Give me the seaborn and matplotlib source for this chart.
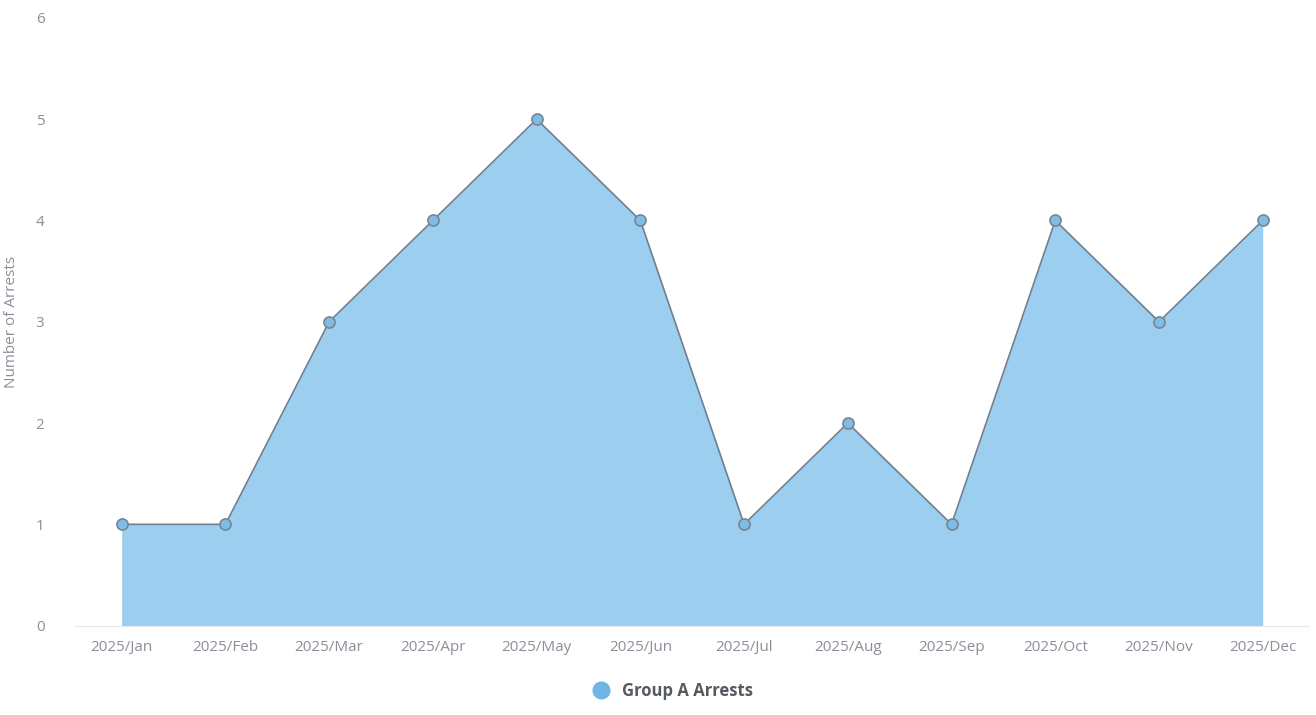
import pandas as pd
import matplotlib.pyplot as plt
import seaborn as sns
from matplotlib.lines import Line2D

# Data
months = ['2025/Jan', '2025/Feb', '2025/Mar', '2025/Apr', '2025/May', '2025/Jun',
          '2025/Jul', '2025/Aug', '2025/Sep', '2025/Oct', '2025/Nov', '2025/Dec']
arrests = [1, 1, 3, 4, 5, 4, 1, 2, 1, 4, 3, 4]
series_name = 'Group A Arrests'

df = pd.DataFrame({'month': months, 'arrests': arrests})
df['pos'] = range(len(months))

sns.set_style('white')
plt.rcParams['font.family'] = ['Open Sans', 'DejaVu Sans']

fill_color = '#9ccfef'
line_color = '#6f7f8f'
text_color = '#8a8f99'

fig = plt.figure(figsize=(13.16, 7.15), dpi=100)
ax = fig.add_axes([0.057, 0.125, 0.938, 0.85])

ax.fill_between(df['pos'], df['arrests'], 0, color=fill_color, linewidth=0, zorder=1)
sns.lineplot(x='pos', y='arrests', data=df, ax=ax, color=line_color, linewidth=1.2,
             marker='o', markersize=8, markerfacecolor='#7dbde8',
             markeredgecolor='#7a8590', markeredgewidth=1.2, zorder=3)

ax.set_xlim(-0.45, 11.45)
ax.set_ylim(0, 6)
ax.set_xticks(df['pos'])
ax.set_xticklabels(months)
ax.set_yticks(range(7))
ax.tick_params(axis='both', colors=text_color, labelsize=11, length=0)
ax.tick_params(axis='x', pad=10)
ax.tick_params(axis='y', pad=22)
ax.set_xlabel('')
ax.set_ylabel('Number of Arrests', color=text_color, fontsize=11, labelpad=12)

for side in ['top', 'right', 'left']:
    ax.spines[side].set_visible(False)
ax.spines['bottom'].set_color('#e4eaf0')

handle = Line2D([], [], linestyle='none', marker='o', markersize=12,
                markerfacecolor='#6fb6e6', markeredgecolor='#6fb6e6')
leg = fig.legend([handle], [series_name], loc='lower center',
                 bbox_to_anchor=(0.508, 0.0), frameon=False, handletextpad=0.3,
                 prop={'weight': 'bold', 'size': 12})
for t in leg.get_texts():
    t.set_color('#555a60')

plt.savefig('out.png', dpi=100)
plt.close()
